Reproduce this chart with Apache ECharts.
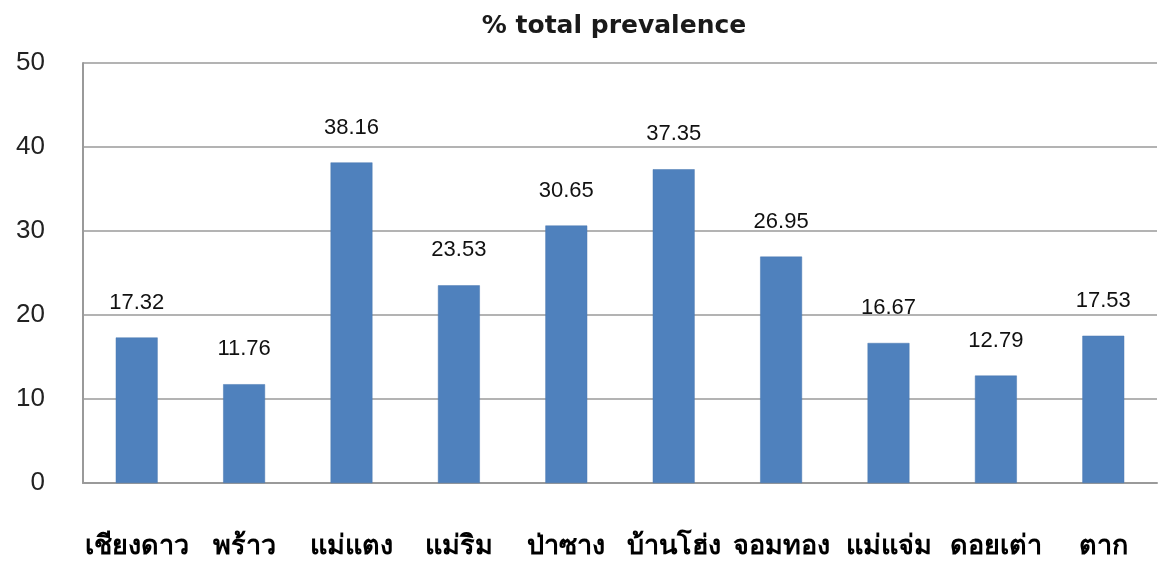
<!DOCTYPE html>
<html>
<head>
<meta charset="utf-8">
<script src="https://cdn.jsdelivr.net/npm/echarts@6/dist/echarts.min.js"></script>
<style>
html,body{margin:0;padding:0;background:#fff;}
#c{width:1163px;height:566px;}
</style>
</head>
<body>
<div id="c"></div>
<script>
const categories = ['เชียงดาว','พร้าว','แม่แตง','แม่ริม','ป่าซาง','บ้านโฮ่ง','จอมทอง','แม่แจ่ม','ดอยเต่า','ตาก'];
const values = [17.32, 11.76, 38.16, 23.53, 30.65, 37.35, 26.95, 16.67, 12.79, 17.53];
const yTicks = [0, 10, 20, 30, 40, 50];

const chart = echarts.init(document.getElementById('c'));
chart.setOption({
  animation: false,
  backgroundColor: '#fff',
  title: {
    text: '% total prevalence',
    left: 609, top: 9, textAlign: 'center',
    textStyle: {fontFamily: 'DejaVu Sans, sans-serif', fontSize: 25, fontWeight: 'bold', color: '#1a1a1a'}
  },
  grid: {left: 83, right: 6, top: 63, bottom: 83},
  xAxis: {
    type: 'category',
    data: categories,
    axisLine: {show: true, lineStyle: {color: '#9a9a9a', width: 2}},
    axisTick: {show: false},
    axisLabel: {margin: 50, fontSize: 27, fontWeight: 'bold', color: '#000', interval: 0,
      fontFamily: 'sans-serif'}
  },
  yAxis: {
    type: 'value',
    min: yTicks[0], max: yTicks[yTicks.length - 1], interval: 10,
    axisLine: {show: true, lineStyle: {color: '#9a9a9a', width: 2}},
    axisTick: {show: false},
    splitLine: {show: true, lineStyle: {color: '#9a9a9a', width: 1.5}},
    axisLabel: {margin: 38, fontSize: 26, color: '#222', fontFamily: 'Liberation Sans, Arial, sans-serif'}
  },
  series: [{
    type: 'bar',
    data: values,
    barWidth: '39%',
    itemStyle: {color: '#4f81bd', borderColor: '#4a78b0', borderWidth: 0.5},
    label: {
      show: true, position: 'top', distance: 24,
      fontSize: 22, color: '#111', fontFamily: 'Liberation Sans, Arial, sans-serif',
      formatter: p => p.value.toFixed(2)
    }
  }]
});
</script>
</body>
</html>
